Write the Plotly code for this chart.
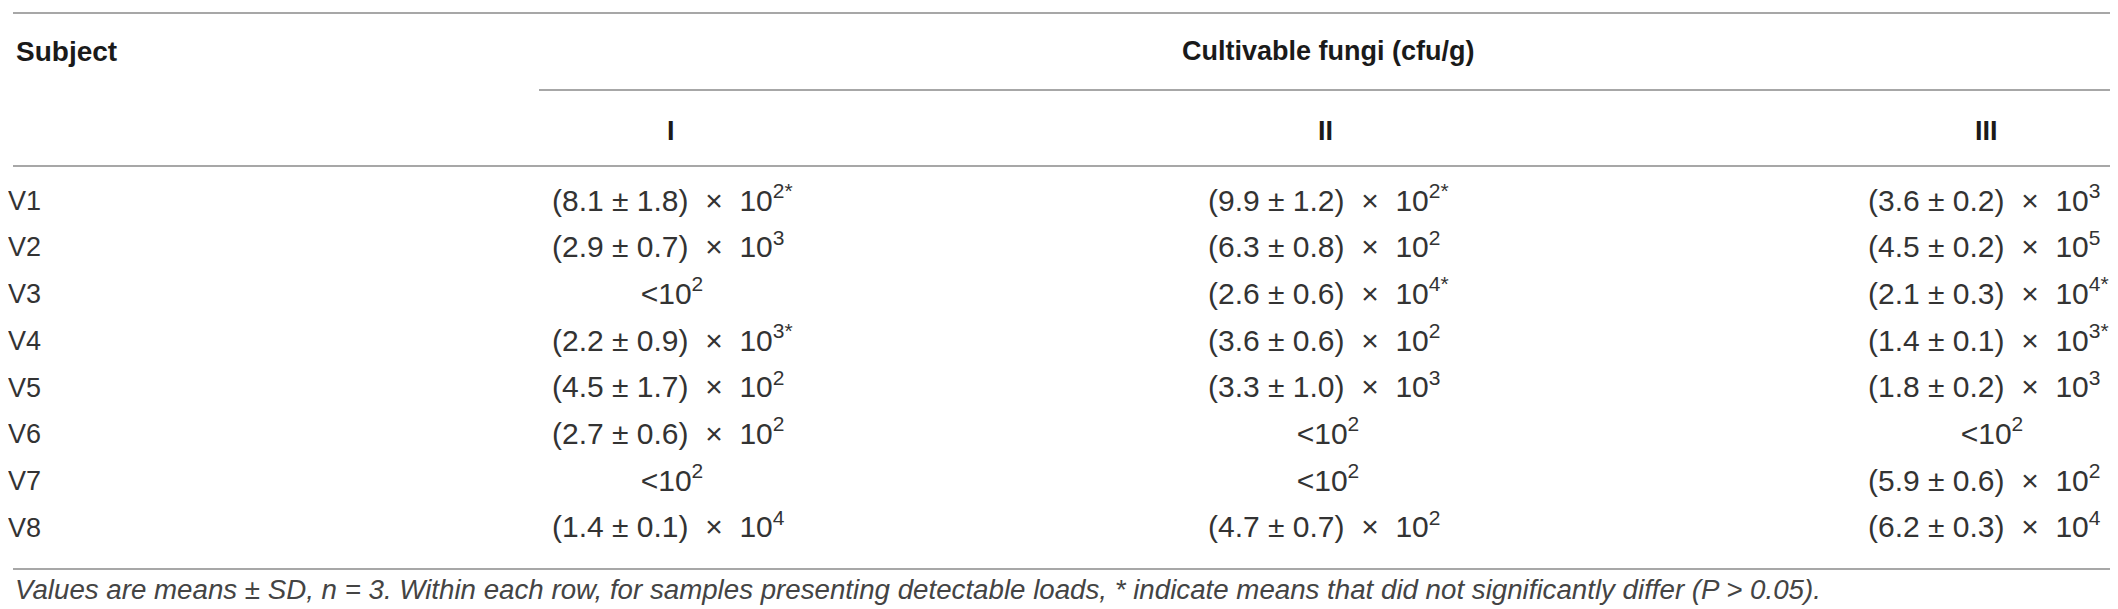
import plotly.graph_objects as go

# table content
subjects = ["V1", "V2", "V3", "V4", "V5", "V6", "V7", "V8"]
groups = ["I", "II", "III"]

# None in mean -> below detection limit (<10^exp)
mean_I = [8.1, 2.9, None, 2.2, 4.5, 2.7, None, 1.4]
sd_I = [1.8, 0.7, None, 0.9, 1.7, 0.6, None, 0.1]
exp_I = [2, 3, 2, 3, 2, 2, 2, 4]
star_I = [1, 0, 0, 1, 0, 0, 0, 0]

mean_II = [9.9, 6.3, 2.6, 3.6, 3.3, None, None, 4.7]
sd_II = [1.2, 0.8, 0.6, 0.6, 1.0, None, None, 0.7]
exp_II = [2, 2, 4, 2, 3, 2, 2, 2]
star_II = [1, 0, 1, 0, 0, 0, 0, 0]

mean_III = [3.6, 4.5, 2.1, 1.4, 1.8, None, 5.9, 6.2]
sd_III = [0.2, 0.2, 0.3, 0.1, 0.2, None, 0.6, 0.3]
exp_III = [3, 5, 4, 3, 3, 2, 2, 4]
star_III = [0, 0, 1, 1, 0, 0, 0, 0]

header_left = "Subject"
header_span = "Cultivable fungi (cfu/g)"
footnote = ("Values are means ± SD, <i>n</i> = 3. Within each row, for samples presenting "
            "detectable loads, * indicate means that did not significantly differ (<i>P</i> > 0.05).")

W, H = 2118, 609
FONT = "Liberation Sans, Arial, sans-serif"
LINE = "#8a8a8a"
nb = "\u00a0"


def cell(m, s, e, st):
    sup = str(e) + ("*" if st else "")
    if m is None:
        return f"<10<sup>{sup}</sup>"
    return f"({m:.1f} ± {s:.1f}){nb}{nb}×{nb}{nb}10<sup>{sup}</sup>"


columns = [
    (mean_I, sd_I, exp_I, star_I),
    (mean_II, sd_II, exp_II, star_II),
    (mean_III, sd_III, exp_III, star_III),
]

# geometry (pixels): left edge of value text, centre of "<10^2" and headers
col_start = [544, 1200, 1860]
col_mid = [664, 1320, 1984]
head_mid = [663, 1317, 1978]
row_y0, row_dy = 195, 46.7
row_y = [row_y0 + i * row_dy for i in range(len(subjects))]

fig = go.Figure()

fig.add_trace(go.Scatter(
    x=[0] * len(subjects), y=row_y, mode="text", text=subjects,
    textposition="middle right", cliponaxis=False,
    textfont=dict(family=FONT, size=27, color="#333333"),
    hoverinfo="skip", showlegend=False,
))
for x0, xm, (m, s, e, st) in zip(col_start, col_mid, columns):
    texts = [cell(*v) for v in zip(m, s, e, st)]
    xs = [xm if v is None else x0 for v in m]
    pos = ["middle center" if v is None else "middle right" for v in m]
    fig.add_trace(go.Scatter(
        x=xs, y=row_y, mode="text", text=texts, textposition=pos,
        cliponaxis=False,
        textfont=dict(family=FONT, size=30, color="#333333"),
        hoverinfo="skip", showlegend=False,
    ))

# horizontal rules
rules = [(5, 5, 2111), (82, 531, 2111), (158, 5, 2111), (561, 5, 2111)]
for y, x0, x1 in rules:
    fig.add_shape(type="line", x0=x0, x1=x1, y0=y, y1=y, xref="x", yref="y",
                  line=dict(color=LINE, width=1.5))

bold = dict(family=FONT, size=27, color="#1a1a1a", weight="bold")
fig.add_annotation(x=6, y=43, text=f"<b>{header_left}</b>", showarrow=False,
                   xanchor="left", yanchor="middle",
                   font=dict(family=FONT, size=28, color="#1a1a1a", weight="bold"))
fig.add_annotation(x=1320, y=43, text=f"<b>{header_span}</b>", showarrow=False,
                   xanchor="center", yanchor="middle", font=bold)
for cx, g in zip(head_mid, groups):
    fig.add_annotation(x=cx, y=123, text=f"<b>{g}</b>", showarrow=False,
                       xanchor="center", yanchor="middle", font=bold)

fig.add_annotation(x=5, y=581, text=f"<i>{footnote}</i>", showarrow=False,
                   xanchor="left", yanchor="middle",
                   font=dict(family=FONT, size=27.7, color="#444444"))

fig.update_xaxes(range=[0, W], visible=False, fixedrange=True)
fig.update_yaxes(range=[H, 0], visible=False, fixedrange=True)
fig.update_layout(
    width=W, height=H,
    margin=dict(l=0, r=0, t=0, b=0),
    paper_bgcolor="white", plot_bgcolor="white",
)

fig.write_html("out.html")
